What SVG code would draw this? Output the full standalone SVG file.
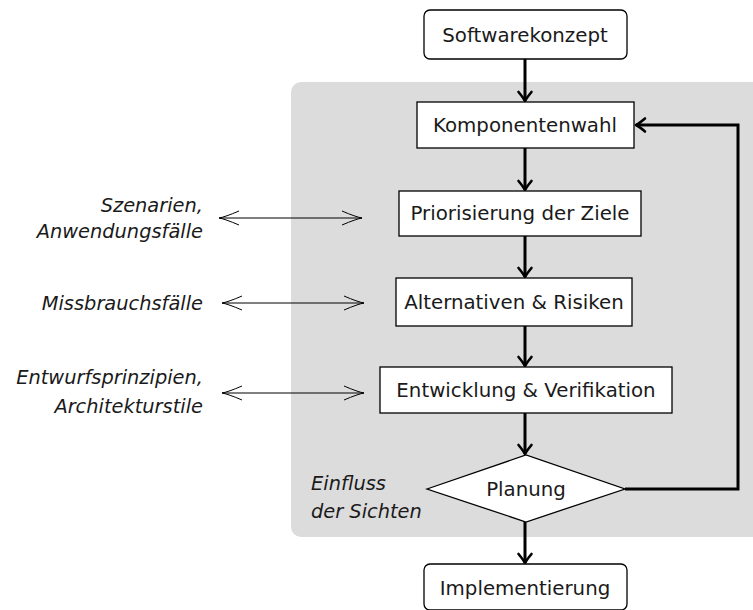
<svg xmlns="http://www.w3.org/2000/svg" width="753" height="610" viewBox="0 0 753 610">
<style>
.box{fill:#fff;stroke:#000;stroke-width:1.3}
.t{font-family:"DejaVu Sans","Liberation Sans",sans-serif;font-size:19.8px;fill:#1a1a1a;text-anchor:middle}
.i{font-family:"DejaVu Sans","Liberation Sans",sans-serif;font-size:19.4px;font-style:italic;fill:#1a1a1a;text-anchor:end}
.main{stroke:#000;stroke-width:3;fill:none}
.thin{stroke:#000;stroke-width:1;fill:none}
</style>
<defs>
<marker id="ah" markerUnits="userSpaceOnUse" viewBox="-12 -9 14 18" markerWidth="14" markerHeight="18" refX="0" refY="0" orient="auto">
<path d="M-9,-6.5 Q-3,-1.5 0,0 Q-3,1.5 -9,6.5" fill="none" stroke="#000" stroke-width="2.6" stroke-linecap="round" stroke-linejoin="round"/>
</marker>
<marker id="th" markerUnits="userSpaceOnUse" viewBox="-22 -9 24 18" markerWidth="24" markerHeight="18" refX="0" refY="0" orient="auto-start-reverse">
<path d="M-20,-7 Q-6,-1 0,0 Q-6,1 -20,7" fill="none" stroke="#000" stroke-width="1"/>
</marker>
</defs>
<rect x="291" y="82" width="480" height="455" rx="10" fill="#dcdcdc"/>
<g id="connectors">
<line class="main" x1="525" y1="59" x2="525" y2="101" marker-end="url(#ah)"/>
<line class="main" x1="525" y1="148" x2="525" y2="190" marker-end="url(#ah)"/>
<line class="main" x1="525" y1="236" x2="525" y2="277" marker-end="url(#ah)"/>
<line class="main" x1="525" y1="326" x2="525" y2="366" marker-end="url(#ah)"/>
<line class="main" x1="525" y1="413" x2="525" y2="454" marker-end="url(#ah)"/>
<line class="main" x1="525" y1="522" x2="525" y2="563" marker-end="url(#ah)"/>
<polyline class="main" points="625,489 738,489 738,125 636,125" marker-end="url(#ah)"/>
<line class="thin" x1="219" y1="218" x2="362" y2="218" marker-start="url(#th)" marker-end="url(#th)"/>
<line class="thin" x1="222" y1="303" x2="364" y2="303" marker-start="url(#th)" marker-end="url(#th)"/>
<line class="thin" x1="222" y1="393" x2="364" y2="393" marker-start="url(#th)" marker-end="url(#th)"/>
</g>
<g id="softwarekonzept"><rect class="box" x="424" y="10" width="203" height="49" rx="6"/><text class="t" x="525" y="42">Softwarekonzept</text></g>
<g id="komponentenwahl"><rect class="box" x="417" y="102" width="217" height="46"/><text class="t" x="525" y="132">Komponentenwahl</text></g>
<g id="priorisierung"><rect class="box" x="399" y="191" width="242" height="45"/><text class="t" x="520" y="220">Priorisierung der Ziele</text></g>
<g id="alternativen"><rect class="box" x="396" y="278" width="236" height="48"/><text class="t" x="514" y="309">Alternativen &amp; Risiken</text></g>
<g id="entwicklung"><rect class="box" x="380" y="367" width="292" height="46"/><text class="t" x="526" y="397">Entwicklung &amp; Verifikation</text></g>
<g id="planung"><polygon class="box" points="427,489 526,455 625,489 526,522"/><text class="t" x="526" y="496">Planung</text></g>
<g id="implementierung"><rect class="box" x="424" y="564" width="203" height="46" rx="6"/><text class="t" x="525" y="595">Implementierung</text></g>
<g id="szenarien"><text class="i" x="203" y="212">Szenarien,</text><text class="i" x="203" y="238">Anwendungsfälle</text></g>
<g id="missbrauch"><text class="i" x="203" y="310">Missbrauchsfälle</text></g>
<g id="entwurf"><text class="i" x="203" y="384">Entwurfsprinzipien,</text><text class="i" x="203" y="413">Architekturstile</text></g>
<g id="einfluss"><text class="i" x="311" y="490" style="text-anchor:start">Einfluss</text><text class="i" x="311" y="518" style="text-anchor:start">der Sichten</text></g>
</svg>
